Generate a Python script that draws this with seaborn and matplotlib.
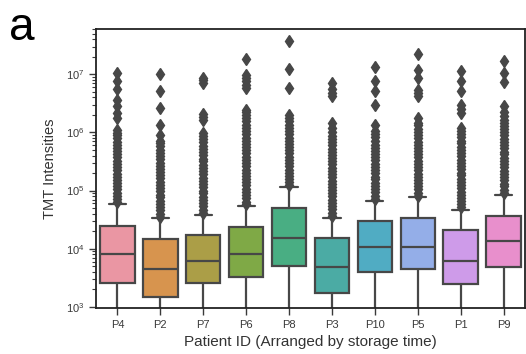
import numpy as np
import pandas as pd
import matplotlib
matplotlib.use("Agg")
import matplotlib.pyplot as plt
import seaborn as sns

# ---- data (log10 of TMT intensity) ----
patients = ["P4", "P2", "P7", "P6", "P8", "P3", "P10", "P5", "P1", "P9"]
q1_log = [3.413, 3.172, 3.403, 3.506, 3.706, 3.241, 3.602, 3.644, 3.391, 3.688]
median_log = [3.907, 3.654, 3.792, 3.907, 4.177, 3.678, 4.028, 4.033, 3.792, 4.131]
q3_log = [4.394, 4.160, 4.234, 4.372, 4.694, 4.177, 4.475, 4.521, 4.320, 4.566]
upper_whisker_log = [4.76, 4.52, 4.585, 4.73, 5.06, 4.53, 4.82, 4.88, 4.67, 4.92]
lower_whisker_log = [2.5, 2.5, 2.5, 2.5, 2.5, 2.5, 2.5, 2.5, 2.5, 2.5]

out_P4 = [4.80, 4.85, 4.91, 4.96, 5.02, 5.07, 5.13, 5.18, 5.24, 5.29, 5.35, 5.40,
          5.46, 5.51, 5.57, 5.62, 5.68, 5.73, 5.79, 5.84, 5.90, 5.95, 5.99,
          6.05, 6.25, 6.33, 6.45, 6.56, 6.74, 6.88, 7.02]
out_P2 = [4.55, 4.60, 4.66, 4.71, 4.77, 4.82, 4.88, 4.93, 4.99, 5.04, 5.10, 5.15,
          5.21, 5.26, 5.32, 5.37, 5.43, 5.48, 5.54, 5.59, 5.65, 5.70, 5.76, 5.81, 5.85,
          5.96, 6.13, 6.42, 6.71, 7.00]
out_P7 = [4.62, 4.67, 4.73, 4.78, 4.84, 4.89, 4.95, 5.00, 5.06, 5.11, 5.17, 5.22,
          5.28, 5.33, 5.39, 5.44, 5.50, 5.55, 5.61, 5.66, 5.72, 5.77, 5.83, 5.88, 5.94, 5.99,
          6.22, 6.27, 6.32, 6.85, 6.90, 6.94]
out_P6 = [4.76, 4.81, 4.87, 4.92, 4.98, 5.03, 5.09, 5.14, 5.20, 5.25, 5.31, 5.36,
          5.42, 5.47, 5.53, 5.58, 5.64, 5.69, 5.75, 5.80, 5.86, 5.91, 5.97, 6.02,
          6.08, 6.13, 6.19, 6.24, 6.30, 6.35, 6.39,
          6.76, 6.82, 6.88, 6.93, 6.99, 7.26]
out_P8 = [5.09, 5.14, 5.20, 5.25, 5.31, 5.36, 5.42, 5.47, 5.53, 5.58, 5.64, 5.69,
          5.75, 5.80, 5.86, 5.91, 5.97, 6.02, 6.08, 6.13, 6.19, 6.24, 6.30,
          6.76, 7.10, 7.57]
out_P3 = [4.57, 4.62, 4.68, 4.73, 4.79, 4.84, 4.90, 4.95, 5.01, 5.06, 5.12, 5.17,
          5.23, 5.28, 5.34, 5.39, 5.45, 5.50, 5.56, 5.61, 5.67, 5.72, 5.78, 5.83,
          5.89, 5.94, 6.00, 6.07, 6.16, 6.62, 6.68, 6.75, 6.85]
out_P10 = [4.86, 4.91, 4.97, 5.02, 5.08, 5.13, 5.19, 5.24, 5.30, 5.35, 5.41, 5.46,
           5.52, 5.57, 5.63, 5.68, 5.74, 5.79, 5.86,
           5.92, 5.98, 6.02, 6.13, 6.47, 6.71, 6.88, 7.12]
out_P5 = [4.91, 4.96, 5.02, 5.07, 5.13, 5.18, 5.24, 5.29, 5.35, 5.40, 5.46, 5.51,
          5.57, 5.62, 5.68, 5.73, 5.79, 5.84, 5.90, 5.95, 6.01, 6.06, 6.12, 6.17, 6.25,
          6.62, 6.67, 6.73, 6.94, 7.08, 7.35]
out_P1 = [4.71, 4.76, 4.82, 4.87, 4.93, 4.98, 5.04, 5.09, 5.15, 5.20, 5.26, 5.31,
          5.37, 5.42, 5.48, 5.53, 5.59, 5.64, 5.70, 5.75, 5.81, 5.86, 5.92, 5.97, 6.03, 6.08,
          6.33, 6.40, 6.48, 6.72, 6.88, 7.05]
out_P9 = [4.96, 5.01, 5.07, 5.12, 5.18, 5.23, 5.29, 5.34, 5.40, 5.45, 5.51, 5.56,
          5.62, 5.67, 5.73, 5.78, 5.84, 5.89, 5.95, 6.00, 6.06, 6.11, 6.17, 6.22, 6.28,
          6.36, 6.45, 6.87, 7.02, 7.23]
outliers_log = [out_P4, out_P2, out_P7, out_P6, out_P8, out_P3, out_P10, out_P5, out_P1, out_P9]

# ---- long table whose quartiles / whiskers reproduce the read statistics ----
rows = []
for i, p in enumerate(patients):
    k = len(outliers_log[i]) + 1
    vals = ([lower_whisker_log[i]] * k + [q1_log[i]] * k + [median_log[i]]
            + [q3_log[i]] * k + [upper_whisker_log[i]] + list(outliers_log[i]))
    for v in vals:
        rows.append((p, 10.0 ** v))
df = pd.DataFrame(rows, columns=["patient", "intensity"])

# ---- plot ----
sns.set_style("ticks")
plt.rcParams["font.family"] = ["Liberation Sans", "DejaVu Sans"]
plt.rcParams["mathtext.default"] = "regular"

fig = plt.figure(figsize=(5.26, 3.54), dpi=100)
ax = fig.add_axes([96 / 526, 1 - 308 / 354, 429 / 526, 279 / 354])

gray = "#474747"
sns.boxplot(data=df, x="patient", y="intensity", hue="patient",
            order=patients, hue_order=patients,
            palette=sns.husl_palette(len(patients), l=.7), saturation=0.75,
            legend=False, width=0.8, linewidth=1.6, linecolor=gray, fliersize=6,
            flierprops=dict(marker="d", markerfacecolor=gray,
                            markeredgecolor=gray), ax=ax)
ax.set_yscale("log")
ax.set_ylim(10 ** 2.978, 10 ** 7.78)
ax.set_xlim(-0.5, 9.5)

ax.set_xlabel("Patient ID (Arranged by storage time)", fontsize=11, color="#333333")
ax.set_ylabel("TMT Intensities", fontsize=10.5, color="#333333", labelpad=6)
ax.tick_params(axis="both", which="major", labelsize=8, length=5, width=1,
               colors="#3a3a3a")
ax.tick_params(axis="y", which="minor", length=3, width=0.8, colors="#3a3a3a")
for s in ax.spines.values():
    s.set_linewidth(1.3)
    s.set_color("#222222")

fig.text(0.017, 0.887, "a", fontsize=33, color="black", va="baseline", ha="left")

fig.savefig("out.png", dpi=100)
